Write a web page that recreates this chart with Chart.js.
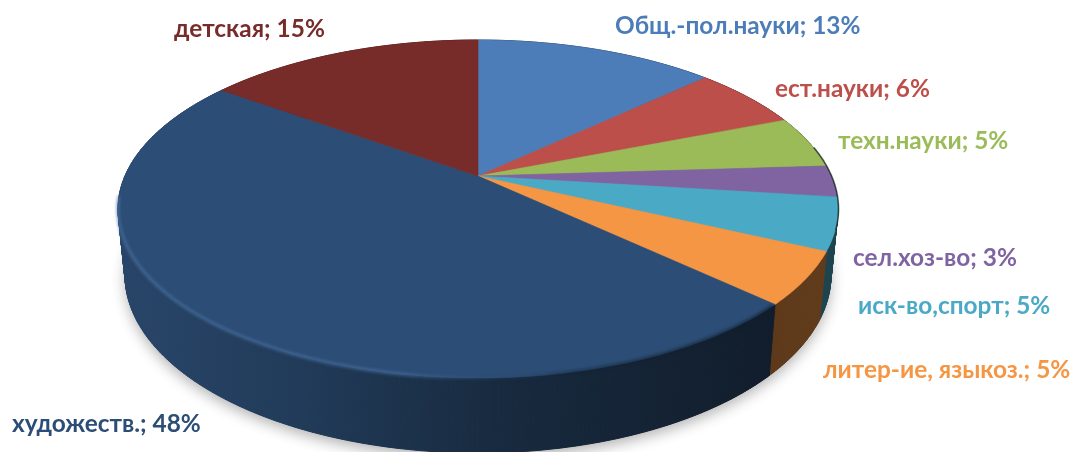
<!DOCTYPE html>
<html>
<head>
<meta charset="utf-8">
<title>Pie</title>
<script src="https://cdn.jsdelivr.net/npm/chart.js@4"></script>
<style>
  html, body { margin: 0; background: #fff; }
  canvas { display: block; }
</style>
</head>
<body>
<canvas id="pie" width="1079" height="452"></canvas>
<script>
const categories = ['Общ.-пол.науки', 'ест.науки', 'техн.науки', 'сел.хоз-во', 'иск-во,спорт', 'литер-ие, языкоз.', 'художеств.', 'детская'];
const shares = [13, 6, 5, 3, 5, 5, 48, 15];
const sliceColors = ['#4d7db8', '#bd4f4b', '#9bbb59', '#8064a2', '#4aaac5', '#f59644', '#2c4d75', '#772c2a'];
const labelSpots = [[615, 34], [775, 97], [838, 149], [853, 266], [858, 314], [823, 378], [12, 432], [174, 37]];

// the pie is a tilted disc: a top and a bottom ellipse, plus a shift of the centre for perspective
const topFace = { x: 478, y: 209, rx: 360, ry: 169 };
const bottomFace = { x: 478, y: 275, rx: 353, ry: 178 };
const tilt = 0.195;
const shadeStops = [[118, 0.9], [300, 0.76], [500, 0.54], [770, 0.38], [840, 0.4]];

function rimPoint(face, angle) {
  const ux = Math.cos(angle), uy = -Math.sin(angle);
  const k = 1 + tilt * uy;
  const nx = ux * Math.sqrt(1 - tilt * tilt) / k;
  const ny = (uy + tilt) / k;
  return [face.x + face.rx * nx, face.y - face.ry * ny];
}

function traceRim(ctx, face, from, to) {
  const steps = Math.max(2, Math.ceil(Math.abs(to - from) / 0.01));
  for (let i = 0; i <= steps; i++) {
    const p = rimPoint(face, from + (to - from) * i / steps);
    ctx.lineTo(p[0], p[1]);
  }
}

function shade(hex, f) {
  const n = parseInt(hex.slice(1), 16);
  return `rgb(${Math.round((n >> 16) * f)},${Math.round(((n >> 8) & 255) * f)},${Math.round((n & 255) * f)})`;
}

// slices go through the normal arc element, only the path is projected
Chart.ArcElement.prototype.draw = function (ctx) {
  const apex = [topFace.x, topFace.y - topFace.ry * tilt];
  ctx.save();
  ctx.beginPath();
  ctx.moveTo(apex[0], apex[1]);
  traceRim(ctx, topFace, this.startAngle, this.endAngle);
  ctx.closePath();
  ctx.fillStyle = this.options.backgroundColor;
  ctx.strokeStyle = this.options.backgroundColor;
  ctx.lineWidth = 0.6;
  ctx.fill();
  ctx.stroke();
  ctx.restore();
};

const wallPlugin = {
  id: 'wall',
  beforeDatasetsDraw(chart) {
    const ctx = chart.ctx;
    const arcs = chart.getDatasetMeta(0).data;

    ctx.save();
    ctx.shadowColor = 'rgba(0, 0, 0, 0.3)';
    ctx.shadowBlur = 14;
    ctx.shadowOffsetY = 5;
    ctx.fillStyle = '#888';
    ctx.beginPath();
    traceRim(ctx, bottomFace, 0, Math.PI * 2);
    ctx.closePath();
    ctx.fill();
    ctx.restore();

    arcs.forEach((arc) => {
      const base = arc.options.backgroundColor;
      const grad = ctx.createLinearGradient(118, 0, 840, 0);
      shadeStops.forEach((s) => grad.addColorStop((s[0] - 118) / 722, shade(base, s[1])));
      ctx.fillStyle = grad;
      ctx.strokeStyle = grad;
      ctx.lineWidth = 1;
      const steps = Math.ceil((arc.endAngle - arc.startAngle) / 0.01);
      for (let i = 0; i < steps; i++) {
        const a0 = arc.startAngle + (arc.endAngle - arc.startAngle) * i / steps;
        const a1 = arc.startAngle + (arc.endAngle - arc.startAngle) * (i + 1) / steps;
        const p = [rimPoint(topFace, a0), rimPoint(topFace, a1), rimPoint(bottomFace, a1), rimPoint(bottomFace, a0)];
        ctx.beginPath();
        ctx.moveTo(p[0][0], p[0][1]);
        p.slice(1).forEach((q) => ctx.lineTo(q[0], q[1]));
        ctx.closePath();
        ctx.fill();
        ctx.stroke();
      }
    });
  },
  afterDatasetsDraw(chart) {
    const ctx = chart.ctx;
    const arcs = chart.getDatasetMeta(0).data;
    const big = arcs[6];

    // soft bevel along the front edge of the big slice
    const rim = ctx.createLinearGradient(118, 0, 800, 0);
    rim.addColorStop(0, 'rgba(74, 115, 165, 0.7)');
    rim.addColorStop(0.42, 'rgba(74, 115, 165, 0.65)');
    rim.addColorStop(0.56, 'rgba(44, 77, 117, 0.2)');
    rim.addColorStop(0.66, 'rgba(16, 30, 46, 0.5)');
    rim.addColorStop(1, 'rgba(16, 30, 46, 0.8)');
    ctx.save();
    ctx.filter = 'blur(1.4px)';
    ctx.strokeStyle = rim;
    ctx.lineWidth = 3;
    ctx.beginPath();
    traceRim(ctx, topFace, big.startAngle + 0.01, big.endAngle - 0.75);
    ctx.stroke();
    ctx.restore();

    // dark edge down the right hand side
    ctx.save();
    ctx.filter = 'blur(0.6px)';
    ctx.strokeStyle = 'rgba(30, 50, 40, 0.75)';
    ctx.lineWidth = 1.6;
    ctx.beginPath();
    traceRim(ctx, { ...topFace, rx: topFace.rx + 0.5 }, arcs[2].endAngle - 0.12, arcs[4].endAngle - 0.12);
    ctx.stroke();
    ctx.restore();
  },
  afterDraw(chart) {
    const ctx = chart.ctx;
    ctx.save();
    ctx.font = 'bold 24.4px Lato, "Open Sans", sans-serif';
    ctx.textBaseline = 'alphabetic';
    categories.forEach((name, i) => {
      ctx.fillStyle = sliceColors[i];
      ctx.fillText(`${name}; ${shares[i]}%`, labelSpots[i][0], labelSpots[i][1]);
    });
    ctx.restore();
  }
};

new Chart(document.getElementById('pie').getContext('2d'), {
  type: 'pie',
  data: {
    labels: categories,
    datasets: [{ data: shares, backgroundColor: sliceColors, borderWidth: 0 }]
  },
  options: {
    responsive: false,
    animation: false,
    plugins: { legend: { display: false }, tooltip: { enabled: false } }
  },
  plugins: [wallPlugin]
});
</script>
</body>
</html>
